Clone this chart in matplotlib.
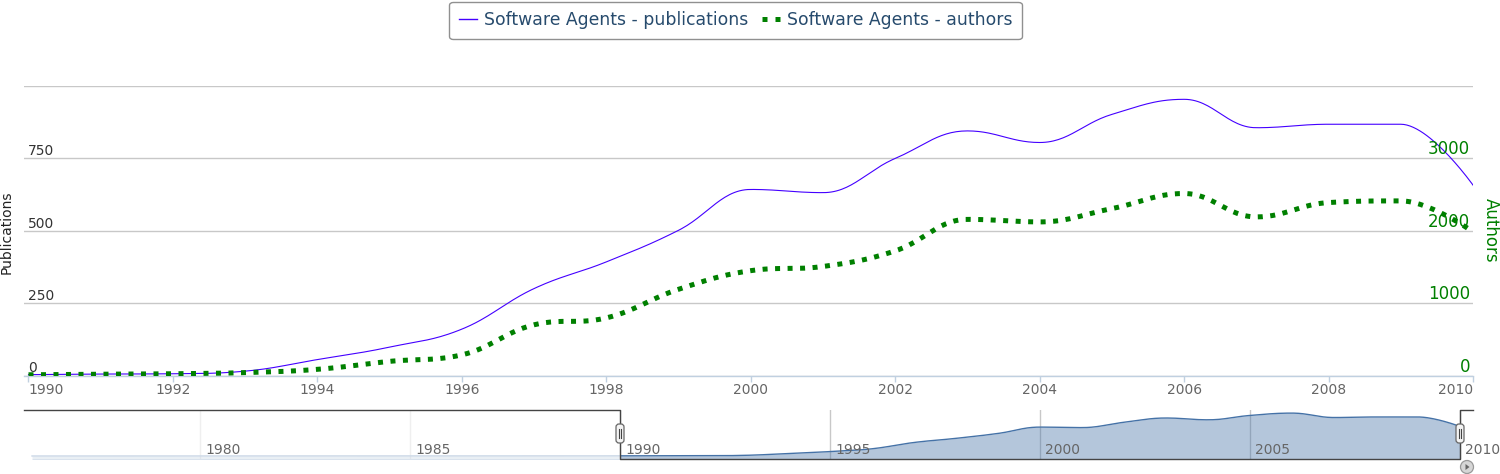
import numpy as np
import matplotlib
matplotlib.use("Agg")
import matplotlib.pyplot as plt
from matplotlib.lines import Line2D
from matplotlib.patches import FancyBboxPatch, Circle, Polygon
from matplotlib.transforms import IdentityTransform, blended_transform_factory, offset_copy

# ---------------- data ----------------
years = list(range(1990, 2011))
publications = [3, 5, 6, 15, 55, 98, 160, 300, 392, 501, 642, 631, 749, 844,
                804, 901, 953, 855, 867, 867, 657]
authors = [10, 18, 24, 40, 85, 195, 285, 700, 795, 1190, 1447, 1505, 1720, 2155,
           2120, 2304, 2512, 2189, 2387, 2410, 1982]
early_years = list(range(1976, 1990))
early_publications = [0, 0, 0, 0, 0, 0, 1, 0, 1, 1, 1, 2, 2, 2]

pub_ticks = [0, 250, 500, 750, 1000]
pub_labels = ["0", "250", "500", "750", ""]
auth_ticks = [0, 1000, 2000, 3000, 4000]
auth_labels = ["0", "1000", "2000", "3000", ""]
year_ticks = list(range(1990, 2011, 2))
nav_ticks = list(range(1980, 2011, 5))

series_names = ["Software Agents - publications", "Software Agents - authors"]

PUB_COLOR = "#4400ff"
AUTH_COLOR = "#008000"
NAV_COLOR = "#4572A7"

W_PX, H_PX = 1500, 474


def hc_spline(xs, ys, smoothing=1.5, n=30):
    """Highcharts-like spline path sampled as points."""
    xs = np.asarray(xs, float)
    ys = np.asarray(ys, float)
    m = len(xs)
    denom = smoothing + 1.0
    rcx, rcy = xs.copy(), ys.copy()
    lcx, lcy = xs.copy(), ys.copy()
    for i in range(1, m - 1):
        px, py = xs[i], ys[i]
        lx, ly = xs[i - 1], ys[i - 1]
        nx, ny = xs[i + 1], ys[i + 1]
        a = (smoothing * px + lx) / denom
        b = (smoothing * py + ly) / denom
        c = (smoothing * px + nx) / denom
        d = (smoothing * py + ny) / denom
        corr = (d - b) * (c - px) / (c - a) + py - d
        b += corr
        d += corr
        if b > ly and b > py:
            b = max(ly, py); d = 2 * py - b
        elif b < ly and b < py:
            b = min(ly, py); d = 2 * py - b
        if d > ny and d > py:
            d = max(ny, py); b = 2 * py - d
        elif d < ny and d < py:
            d = min(ny, py); b = 2 * py - d
        lcx[i], lcy[i], rcx[i], rcy[i] = a, b, c, d
    ox, oy = [xs[0]], [ys[0]]
    tt = np.linspace(0, 1, n)[1:]
    for i in range(1, m):
        p0x, p0y = xs[i - 1], ys[i - 1]
        p1x, p1y = rcx[i - 1], rcy[i - 1]
        p2x, p2y = lcx[i], lcy[i]
        p3x, p3y = xs[i], ys[i]
        u = 1 - tt
        bx = u**3 * p0x + 3 * u**2 * tt * p1x + 3 * u * tt**2 * p2x + tt**3 * p3x
        by = u**3 * p0y + 3 * u**2 * tt * p1y + 3 * u * tt**2 * p2y + tt**3 * p3y
        ox.extend(bx); oy.extend(by)
    return np.array(ox), np.array(oy)


plt.rcParams['font.family'] = ['DejaVu Sans']

fig = plt.figure(figsize=(W_PX / 100, H_PX / 100), dpi=100)

# ---------------- main chart ----------------
left_px, right_px = 24, 1473
top_px, bottom_px = 85.7, 375.5
ax = fig.add_axes([left_px / W_PX, 1 - bottom_px / H_PX,
                   (right_px - left_px) / W_PX, (bottom_px - top_px) / H_PX])
ax.set_xlim(1990 - 4.5 / 72.25, 2010)
ax.set_ylim(pub_ticks[0], pub_ticks[-1])
ax2 = ax.twinx()
ax2.set_ylim(auth_ticks[0], auth_ticks[-1])

for s in ["top", "left", "right"]:
    ax.spines[s].set_visible(False)
    ax2.spines[s].set_visible(False)
ax2.spines["bottom"].set_visible(False)
ax.spines["bottom"].set_color("#C0D0E0")
ax.spines["bottom"].set_linewidth(1.0)

ax.set_yticks(pub_ticks)
ax.yaxis.grid(True, color="#C8C8C8", lw=1.0)
ax.set_axisbelow(True)
ax.tick_params(axis="y", length=0, labelleft=False)
ax2.set_yticks(auth_ticks)
ax2.tick_params(axis="y", length=0, labelright=False)

ax.set_xticks(year_ticks)
xlabs = ax.set_xticklabels([str(y) for y in year_ticks])
xlabs[0].set_ha("left")
xlabs[-1].set_ha("right")
ax.tick_params(axis="x", color="#C0D0E0", length=4, width=1.0,
               labelcolor="#666666", labelsize=10, pad=1.5)

bl = blended_transform_factory(ax.transAxes, ax.transData)
for v, lab in zip(pub_ticks, pub_labels):
    ax.text(0.003, v, lab, transform=bl, ha="left", va="bottom",
            fontsize=10, color="#333333")
bl2 = blended_transform_factory(ax2.transAxes, ax2.transData)
for v, lab in zip(auth_ticks, auth_labels):
    ax2.text(0.998, v, lab, transform=bl2, ha="right", va="bottom",
             fontsize=12, color=AUTH_COLOR)

px_, py_ = hc_spline(years, publications)
ax.plot(px_, py_, color=PUB_COLOR, lw=0.8, zorder=3)
axx, ayy = hc_spline(years, authors)
ax2.plot(axx, ayy, color=AUTH_COLOR, lw=3.6, dashes=(1, 1.5),
         solid_capstyle="butt", dash_capstyle="butt", zorder=3)

fig.text(7 / W_PX, 1 - 232 / H_PX, "Publications", rotation=90,
         ha="center", va="center", fontsize=10, color="#222222")
fig.text(1491 / W_PX, 1 - 230 / H_PX, "Authors", rotation=270,
         ha="center", va="center", fontsize=12, color=AUTH_COLOR)

# ---------------- navigator ----------------
nav_top, nav_bot = 410, 459
nav = fig.add_axes([left_px / W_PX, 1 - nav_bot / H_PX,
                    (right_px - left_px) / W_PX, (nav_bot - nav_top) / H_PX])
nav.set_xlim(1990 - 596 / 42, 2010 + 13 / 42)
nav.set_ylim(-67, 1022)
nav.axis("off")
x0, x1 = nav.get_xlim()
yb, yt = nav.get_ylim()

for yr in nav_ticks:
    nav.axvline(yr, color="#C8C8C8", lw=1.0, zorder=1)
lab_tr = offset_copy(blended_transform_factory(nav.transData, nav.transAxes),
                     fig=fig, x=5, y=0, units="dots")
for yr in nav_ticks:
    nav.text(yr, 0.18, str(yr), transform=lab_tr, ha="left", va="center",
             fontsize=10, color="#666666", zorder=6, clip_on=False)

nx_, ny_ = hc_spline(early_years + years, early_publications + publications)
nav.fill_between(nx_, yb, ny_, color=NAV_COLOR, alpha=0.4, lw=0, zorder=2)
nav.plot(nx_, ny_, color=NAV_COLOR, lw=1.0, zorder=3)
nav.axvspan(x0, years[0], color="white", alpha=0.72, lw=0, zorder=4)

nav.plot([x0, years[0], years[0], years[-1], years[-1], x1],
         [yt, yt, yb, yb, yt, yt], color="#444444", lw=1.0, zorder=5,
         clip_on=False)

for yr in (years[0], years[-1]):
    xp = nav.transData.transform((yr, 0))[0]
    h = FancyBboxPatch((xp - 4, H_PX - 443), 8, 19,
                       boxstyle="round,pad=0,rounding_size=3",
                       transform=IdentityTransform(), fc="#F4F4F4",
                       ec="#666666", lw=0.9, zorder=10)
    fig.add_artist(h)
    for dx in (-1.3, 1.3):
        fig.add_artist(Line2D([xp + dx, xp + dx], [H_PX - 438, H_PX - 429],
                              transform=IdentityTransform(), color="#444444",
                              lw=0.8, zorder=11))

xe = nav.transData.transform((years[-1], 0))[0]
cx, cy = xe + 7, H_PX - 467
fig.add_artist(Circle((cx, cy), 6.5, transform=IdentityTransform(),
                      fc="#D6D6D6", ec="#999999", lw=0.9, zorder=10))
fig.add_artist(Polygon([(cx - 1.5, cy + 3), (cx - 1.5, cy - 3), (cx + 2.5, cy)],
                       closed=True, transform=IdentityTransform(),
                       fc="#666666", ec="none", zorder=11))

# ---------------- legend ----------------
handles = [Line2D([], [], color=PUB_COLOR, lw=1.0),
           Line2D([], [], color=AUTH_COLOR, lw=3.6, dashes=(1, 1.6),
                  dash_capstyle="butt")]
leg = fig.legend(handles, series_names, loc="upper center",
                 bbox_to_anchor=(735.5 / W_PX, 1 - 2 / H_PX), ncol=2,
                 frameon=True, fancybox=True, fontsize=12.4, handlelength=1.05,
                 handletextpad=0.4, columnspacing=0.8, borderpad=0.55,
                 labelcolor="#274b6d", borderaxespad=0)
fr = leg.get_frame()
fr.set_edgecolor("#909090")
fr.set_linewidth(1.0)
fr.set_facecolor("white")
fr.set_alpha(1)

fig.savefig("out.png", dpi=100)
